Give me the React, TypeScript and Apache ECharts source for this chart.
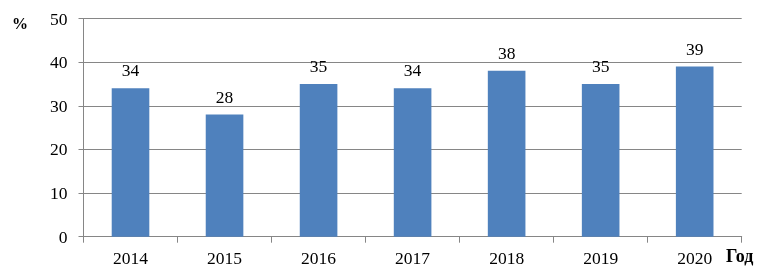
import React, { useEffect, useRef } from "react";
import * as echarts from "echarts";

const categories = ["2014", "2015", "2016", "2017", "2018", "2019", "2020"];
const values = [34, 28, 35, 34, 38, 35, 39];
const yTicks = { min: 0, max: 50, interval: 10 };

export default function App() {
  const ref = useRef<HTMLDivElement>(null);
  useEffect(() => {
    const chart = echarts.init(ref.current!, null, { renderer: "svg" });
    const font = "'Liberation Serif', 'Times New Roman', serif";
    chart.setOption({
      animation: false,
      grid: { left: 83.5, right: 23.3, top: 18.5, bottom: 36.3, containLabel: false },
      graphic: [
        { type: "text", left: 12, top: 15, style: { text: "%", font: `bold 16px ${font}`, fill: "#000" } },
        { type: "text", left: 726, top: 247, style: { text: "Год", font: `bold 18px ${font}`, fill: "#000" } },
      ],
      xAxis: {
        type: "category",
        data: categories,
        axisLine: { lineStyle: { color: "#868686", width: 1 } },
        axisTick: { show: true, length: 6, alignWithLabel: false, lineStyle: { color: "#868686" } },
        axisLabel: { color: "#000", fontFamily: font, fontSize: 17.5, margin: 12 },
      },
      yAxis: {
        type: "value",
        min: yTicks.min,
        max: yTicks.max,
        interval: yTicks.interval,
        axisLine: { show: true, lineStyle: { color: "#868686", width: 1 } },
        axisTick: { show: true, length: 5, lineStyle: { color: "#868686" } },
        axisLabel: { color: "#000", fontFamily: font, fontSize: 17.5, margin: 16 },
        splitLine: { lineStyle: { color: "#868686", width: 1 } },
      },
      series: [
        {
          type: "bar",
          data: values,
          barWidth: "40%",
          itemStyle: { color: "#4F81BD" },
          label: { show: true, position: "top", distance: 9, color: "#000", fontFamily: font, fontSize: 17.5 },
        },
      ],
    });
    return () => chart.dispose();
  }, []);
  return <div ref={ref} style={{ position: "fixed", left: 0, top: 0, width: 765, height: 273 }} />;
}
